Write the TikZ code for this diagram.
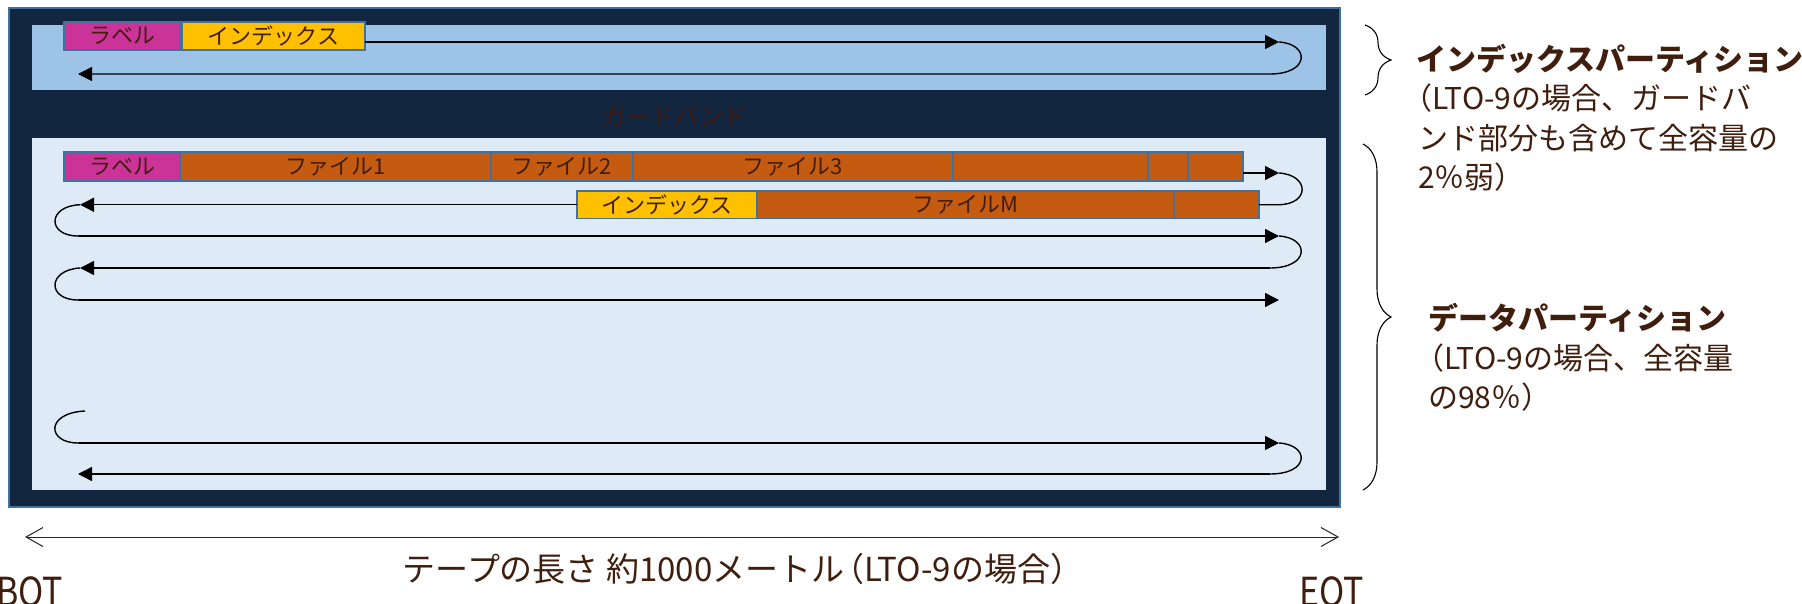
\documentclass[tikz,border=0pt]{standalone}
\usepackage{fontspec}
\setmainfont{Noto Sans CJK JP}
\usetikzlibrary{arrows.meta,decorations.pathreplacing,calc}
\definecolor{navy}{HTML}{12263F}
\definecolor{edge}{HTML}{41719C}
\definecolor{ipart}{HTML}{9DC3E6}
\definecolor{dpart}{HTML}{DEEBF7}
\definecolor{mag}{HTML}{CC3399}
\definecolor{gold}{HTML}{FFC000}
\definecolor{rust}{HTML}{C55A11}
\definecolor{ink}{RGB}{64,30,14}
\definecolor{guard}{RGB}{62,26,16}
\begin{document}
\begin{tikzpicture}[x=1pt,y=-1pt,
  seg/.style={draw=edge, line width=1.6pt, inner sep=0pt, outer sep=0pt, anchor=north west, text=ink, font=\fontsize{22}{22}\selectfont},
  rowa/.style={seg, minimum height=29pt},
  rowb/.style={seg, minimum height=27.5pt},
  conn/.style={line width=1.4pt, draw=black},
  tip/.style={-{Triangle[length=14pt,width=14pt]}},
  dim/.style={line width=1pt, draw=black!85, {Straight Barb[length=17pt,width=19pt]}-{Straight Barb[length=17pt,width=19pt]}},
  brc/.style={line width=1.1pt, draw=black, decorate},
  side/.style={anchor=base west, inner sep=0pt, text=ink, font=\fontsize{30}{30}\selectfont},
  endlab/.style={inner sep=0pt, text=ink, font=\fontsize{40}{40}\selectfont}
]
\useasboundingbox (0,0) rectangle (1802,604);
\fill[white] (0,0) rectangle (1802,604);

% tape body
\draw[fill=navy, draw=edge, line width=1.5pt] (9,8) rectangle (1340,507);
\fill[ipart] (32,25) rectangle (1326,90);
\fill[dpart] (32,138) rectangle (1326,490);
\node[text=guard, font=\fontsize{24}{24}\selectfont, inner sep=0pt] (gb) at (675,116) {ガードバンド};

% index partition
\node[seg, fill=mag, minimum width=116pt, minimum height=28pt] (ilab) at (64,22) {ラベル};
\node[seg, fill=gold, minimum width=183pt, minimum height=28pt] (iidx) at (182,22) {インデックス};
\coordinate (iA) at (365,42);
\coordinate (iB) at (1279,42);
\coordinate (iC) at (1270,74);
\coordinate (iD) at (78,74);
\draw[conn, tip] (iA) -- (iB);
\draw[conn, tip] (iB) .. controls (1310,44) and (1310,74) .. (iC) -- (iD);

% data partition, wrap 1
\node[rowa, fill=mag, minimum width=116pt] (dlab) at (64,152) {ラベル};
\node[rowa, fill=rust, minimum width=311pt] (f1) at (180,152) {ファイル1};
\node[rowa, fill=rust, minimum width=142pt] (f2) at (491,152) {ファイル2};
\node[rowa, fill=rust, minimum width=320pt] (f3) at (633,152) {ファイル3};
\node[rowa, fill=rust, minimum width=195pt] (b1) at (953,152) {};
\node[rowa, fill=rust, minimum width=40pt] (b2) at (1148,152) {};
\node[rowa, fill=rust, minimum width=55pt] (b3) at (1188,152) {};
% wrap 2
\node[rowb, fill=gold, minimum width=180pt] (didx) at (577,191) {インデックス};
\node[rowb, fill=rust, minimum width=417pt] (fM) at (757,191) {ファイルM};
\node[rowb, fill=rust, minimum width=85pt] (b4) at (1174,191) {};

\coordinate (d1a) at (1243,173);
\coordinate (d1b) at (1279,173);
\coordinate (d2e) at (1278,204.75);
\coordinate (d2t) at (80,204.75);
\coordinate (d3s) at (78,236);
\coordinate (d3t) at (1279,236);
\coordinate (d4s) at (1270,268);
\coordinate (d4t) at (80,268);
\coordinate (d5s) at (78,300);
\coordinate (d5t) at (1279,300);
\coordinate (d6o) at (85,411);
\coordinate (d6s) at (78,443);
\coordinate (d6t) at (1279,443);
\coordinate (d7s) at (1270,474);
\coordinate (d7t) at (78,474);

\draw[conn, tip] (d1a) -- (d1b);
\draw[conn] (d1b) .. controls (1310,175) and (1310,204.75) .. (d2e) -- (b4.east);
\draw[conn, tip] (didx.west) -- (d2t);
\draw[conn] (d2t) .. controls (47,206) and (47,236) .. (d3s);
\draw[conn, tip] (d3s) -- (d3t);
\draw[conn] (d3t) .. controls (1310,238) and (1310,268) .. (d4s);
\draw[conn, tip] (d4s) -- (d4t);
\draw[conn] (d4t) .. controls (47,270) and (47,300) .. (d5s);
\draw[conn, tip] (d5s) -- (d5t);
\draw[conn] (d6o) .. controls (45,413) and (47,443) .. (d6s);
\draw[conn, tip] (d6s) -- (d6t);
\draw[conn] (d6t) .. controls (1310,445) and (1310,474) .. (d7s);
\draw[conn, tip] (d7s) -- (d7t);

% braces
\coordinate (ib1) at (1365,25);
\coordinate (ib2) at (1365,95);
\coordinate (db1) at (1363,144);
\coordinate (db2) at (1363,490);
\draw[brc, decoration={brace, amplitude=26pt, aspect=0.5}] (ib1) -- (ib2);
\draw[brc, decoration={brace, amplitude=28pt, aspect=0.5}] (db1) -- (db2);

% side texts
\node[side] (it1) at (1416,70.5) {\bfseries インデックスパーティション};
\node[side] (it2) at (1416,110) {\hspace{-0.45em}（LTO-9の場合、ガードバ};
\node[side] (it3) at (1418,149.5) {ンド部分も含めて全容量の};
\node[side] (it4) at (1418,189) {2％弱）};
\node[side] (dt1) at (1428,329) {\bfseries データパーティション};
\node[side] (dt2) at (1428,369) {\hspace{-0.45em}（LTO-9の場合、全容量};
\node[side] (dt3) at (1428,408) {の98％）};

% length dimension
\coordinate (dL) at (25,537);
\coordinate (dR) at (1339,537);
\draw[dim] (dL) -- (dR);
\node[anchor=base, inner sep=0pt, text=ink, font=\fontsize{33}{33}\selectfont] (len) at (743,581) {テープの長さ 約1000メートル\kern-0.4em（LTO-9の場合）};
\node[endlab, anchor=base west, xscale=0.85] (bot) at (-4,606) {BOT};
\node[endlab, anchor=base west, xscale=0.85] (eot) at (1299,606) {EOT};
\end{tikzpicture}
\end{document}
